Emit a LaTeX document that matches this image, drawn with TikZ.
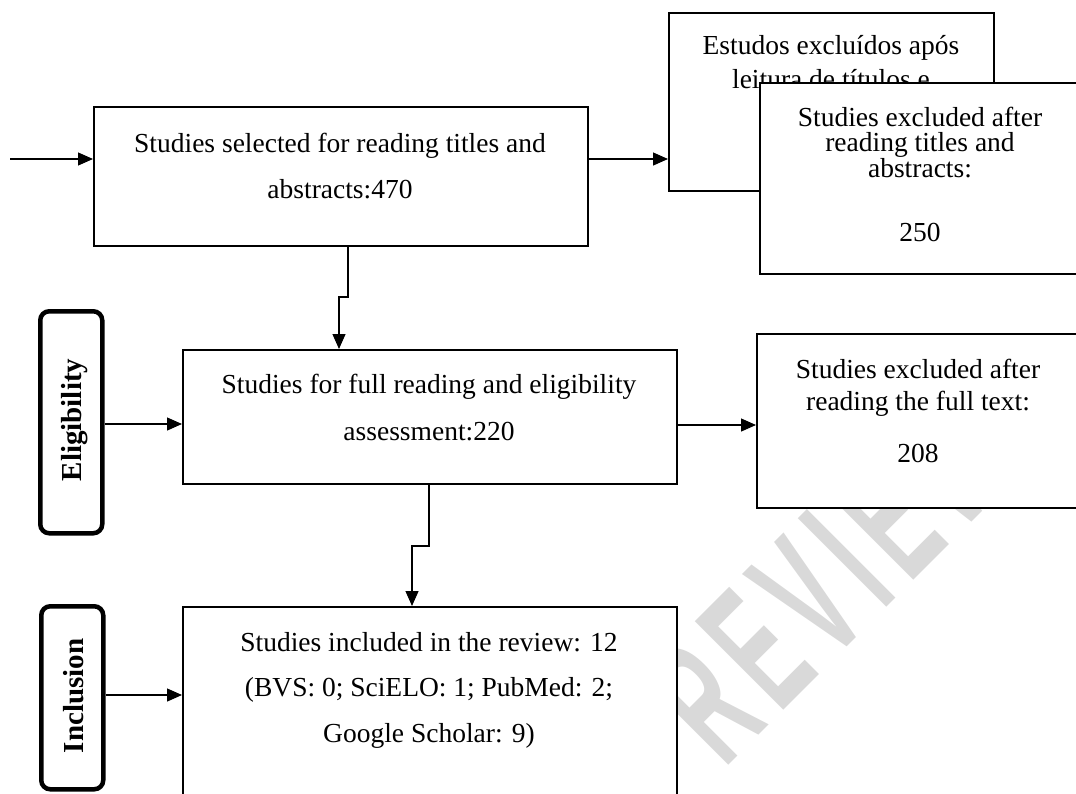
\documentclass[tikz,border=0pt]{standalone}
\usepackage{fontspec}
\usepackage{graphicx}
\setmainfont{Liberation Serif}
\newfontfamily\wmfont{Liberation Sans}
\usetikzlibrary{arrows.meta,calc}
\begin{document}
\begin{tikzpicture}[x=1pt,y=-1pt,
  box/.style={draw=black, line width=1.6pt, fill=white, inner sep=0pt, anchor=north west},
  stage/.style={draw=black, line width=4.5pt, rounded corners=9pt, fill=white, inner sep=0pt, anchor=north west},
  txt/.style={align=center, inner sep=0pt},
  stagetxt/.style={inner sep=0pt, rotate=90, font=\fontsize{29}{34}\selectfont\bfseries},
  arr/.style={line width=1.2pt, -{Triangle[length=15pt,width=13pt]}},
  wm/.style={anchor=base west, rotate=45, text=black!15, inner sep=0pt, font=\wmfont\bfseries\fontsize{182}{182}\selectfont}
]
\useasboundingbox (0,0) rectangle (1076,793);
\clip (0,0) rectangle (1076,793);

% watermark
\node[wm] (wmark) at (724,770) {\scalebox{0.495}[1]{R\kern26pt E\kern26pt V\kern26pt I\kern26pt E\kern26pt W}};

% boxes
\node[box, minimum width=494pt, minimum height=139pt] (sel) at (93,106) {};
\node[box, minimum width=325pt, minimum height=178pt] (est) at (668,12) {};
\node[txt, font=\fontsize{27.5}{34}\selectfont] (estt) at (831,62.5) {Estudos excluídos após\\leitura de títulos e};
\node[box, minimum width=322pt, minimum height=191pt] (exta) at (759,82) {};
\node[box, minimum width=494pt, minimum height=134pt] (full) at (182,349) {};
\node[box, minimum width=325pt, minimum height=174pt] (exf) at (756,333) {};
\node[box, minimum width=494pt, minimum height=200pt] (inc) at (182,606) {};

\node[stage, minimum width=62pt, minimum height=222pt] (elig) at (38,309) {};
\node[stage, minimum width=62pt, minimum height=183pt] (incl) at (39,604) {};

% texts
\node[txt, font=\fontsize{27.5}{46}\selectfont] (selt) at (340,165.6) {Studies selected for reading titles and\\abstracts:470};
\node[txt, font=\fontsize{27.5}{25.5}\selectfont] (extat) at (920,174) {Studies excluded after\\reading titles and\\abstracts:\\[38.5pt]250};
\node[txt, font=\fontsize{27.5}{47}\selectfont] (fullt) at (429,407.1) {Studies for full reading and eligibility\\assessment:220};
\node[txt, font=\fontsize{27.5}{32}\selectfont] (exft) at (918,410.6) {Studies excluded after\\reading the full text:\\[20pt]208};
\node[txt, font=\fontsize{27.5}{45.5}\selectfont] (inct) at (429,690) {Studies included in the review: 12\\(BVS: 0; SciELO: 1; PubMed: 2;\\Google Scholar: 9)};
\node[stagetxt] (eligt) at (75,420) {Eligibility};
\node[stagetxt] (inclt) at (73.5,696) {Inclusion};

% connectors
\coordinate (in) at (10,159);
\draw[arr] (in) -- (in -| sel.west);
\draw[arr] (in -| sel.east) -- (in -| est.west);
\coordinate (k1) at (348,297);
\coordinate (k2) at (339,297);
\draw[arr] (sel.south -| k1) -- (k1) -- (k2) -- (k2 |- full.north);
\coordinate (e1) at (100,424);
\draw[arr] (elig.east |- e1) -- (e1 -| full.west);
\coordinate (e2) at (676,425);
\draw[arr] (e2 -| full.east) -- (e2 -| exf.west);
\coordinate (k3) at (429,546);
\coordinate (k4) at (412,546);
\draw[arr] (full.south -| k3) -- (k3) -- (k4) -- (k4 |- inc.north);
\coordinate (e3) at (101,695);
\draw[arr] (incl.east |- e3) -- (e3 -| inc.west);
\end{tikzpicture}
\end{document}
